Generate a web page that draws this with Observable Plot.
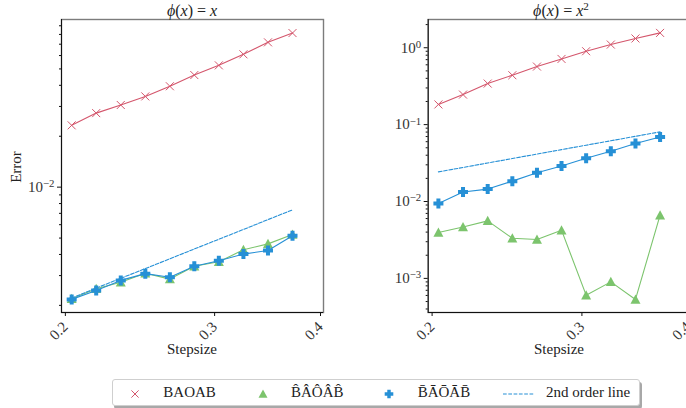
<!DOCTYPE html>
<html><head><meta charset="utf-8">
<script src="https://cdn.jsdelivr.net/npm/d3@7"></script>
<script src="https://cdn.jsdelivr.net/npm/@observablehq/plot@0.6"></script>
<style>
html,body{margin:0;padding:0;background:#fff;overflow:hidden;}
#wrap{position:relative;width:686px;height:408px;overflow:hidden;font-family:"Liberation Serif",serif;color:#222;}
.abs{position:absolute;white-space:nowrap;font-family:"Liberation Serif",serif;}
#wrap svg{overflow:visible;}
</style></head><body><div id="wrap"></div>
<script>
// ---- data ----
const stepsize = [0.2018, 0.2157, 0.2306, 0.2465, 0.2635, 0.2816, 0.3010, 0.3218, 0.3440, 0.3677];
// phi(x) = x
const leftBAOAB = [0.0232, 0.0274, 0.0306, 0.0344, 0.0395, 0.0460, 0.0525, 0.0610, 0.0718, 0.0815];
const leftHat   = [0.00219, 0.00251, 0.00274, 0.00310, 0.00286, 0.00341, 0.00362, 0.00426, 0.00462, 0.00525];
const leftBar   = [0.00217, 0.00245, 0.00281, 0.00308, 0.00293, 0.00341, 0.00367, 0.00402, 0.00422, 0.00516];
const leftOrder2 = [0.00221, 0.00253, 0.00289, 0.00330, 0.00377, 0.00431, 0.00492, 0.00562, 0.00643, 0.00734];
// phi(x) = x^2
const rightBAOAB = [0.183, 0.246, 0.342, 0.439, 0.569, 0.715, 0.901, 1.10, 1.32, 1.56];
const rightHat   = [0.00395, 0.00467, 0.00560, 0.00333, 0.00321, 0.00424, 0.000605, 0.000901, 0.000532, 0.00664];
const rightBar   = [0.00942, 0.0133, 0.0145, 0.0184, 0.0236, 0.0290, 0.0366, 0.0451, 0.0568, 0.0692];
const rightOrder2 = [0.0243, 0.0277, 0.0317, 0.0362, 0.0414, 0.0473, 0.0540, 0.0617, 0.0705, 0.0806];

const xTicks = [0.2, 0.3, 0.4];
const leftMajor = [0.01];
const rightMajor = [0.001, 0.01, 0.1, 1];

const seriesNames = ["BAOAB", "B\u0302\u00C2\u00D4\u00C2B\u0302", "B\u0304\u0100\u014C\u0100B\u0304", "2nd order line"];
const colors = {red: "#d4566c", green: "#7cc46d", blue: "#2690d6"};

// ---- symbols ----
const rad = s => Math.sqrt(s / Math.PI);
const symTimes = {draw(c, s) {const r = rad(s); c.moveTo(-r,-r); c.lineTo(r,r); c.moveTo(-r,r); c.lineTo(r,-r);}};
const symTri = {draw(c, s) {const r = rad(s); c.moveTo(0,-r); c.lineTo(r,r*0.85); c.lineTo(-r,r*0.85); c.closePath();}};
const symPlus = {draw(c, s) {const r = rad(s), w = r*0.4;
  c.moveTo(-w,-r); c.lineTo(w,-r); c.lineTo(w,-w); c.lineTo(r,-w); c.lineTo(r,w); c.lineTo(w,w);
  c.lineTo(w,r); c.lineTo(-w,r); c.lineTo(-w,w); c.lineTo(-r,w); c.lineTo(-r,-w); c.lineTo(-w,-w); c.closePath();}};

function minorTicks(lo, hi) {
  const out = [];
  for (let e = Math.floor(Math.log10(lo)); e <= Math.ceil(Math.log10(hi)); e++)
    for (let k = 2; k <= 9; k++) { const v = k * Math.pow(10, e); if (v >= lo && v <= hi) out.push(v); }
  return out;
}

function panel({width, marginLeft, marginRight, yDomain, majors, baoab, hat, bar, order2}) {
  const xDomain = [0.1963, 0.4];
  const rows = a => stepsize.map((h, i) => ({h, v: a[i]}));
  const svg = Plot.plot({
    width, height: 345, marginTop: 19, marginBottom: 33, marginLeft, marginRight,
    style: {background: "transparent", overflow: "visible", fontFamily: "Liberation Serif, serif", fontSize: "15px"},
    x: {type: "log", domain: xDomain},
    y: {type: "log", domain: yDomain},
    marks: [
      Plot.frame({stroke: "#7c7c7c", strokeWidth: 1.4}),
      Plot.ruleX([xDomain[0]], {stroke: "#111", strokeWidth: 1}),
      Plot.ruleY([yDomain[0]], {stroke: "#111", strokeWidth: 1}),
      Plot.axisY({ticks: minorTicks(yDomain[0], yDomain[1]), tickSize: 2, tickFormat: () => "", stroke: "#111", label: null}),
      Plot.axisY({ticks: majors, tickSize: 4, tickPadding: 3, fontSize: 15, stroke: "#111", label: null,
        tickFormat: d => "10^" + Math.round(Math.log10(d)), fill: "#333"}),
      Plot.axisX({ticks: xTicks, tickSize: 4, tickRotate: -45, fontSize: 15, label: null, stroke: "#111",
        tickFormat: d => d.toFixed(1), fill: "#333", dx: -3}),
      Plot.line(rows(baoab), {x: "h", y: "v", stroke: colors.red, strokeWidth: 1.1}),
      Plot.dot(rows(baoab), {x: "h", y: "v", symbol: symTimes, r: 4, stroke: colors.red, fill: "none", strokeWidth: 1}),
      Plot.line(rows(hat), {x: "h", y: "v", stroke: colors.green, strokeWidth: 1.1}),
      Plot.dot(rows(hat), {x: "h", y: "v", symbol: symTri, r: 5, fill: colors.green, stroke: "none"}),
      Plot.line(rows(bar), {x: "h", y: "v", stroke: colors.blue, strokeWidth: 1.1}),
      Plot.dot(rows(bar), {x: "h", y: "v", symbol: symPlus, r: 5, fill: colors.blue, stroke: "none"}),
      Plot.line(rows(order2), {x: "h", y: "v", stroke: colors.blue, strokeWidth: 1.1, strokeDasharray: "3.7,1.6"})
    ]
  });
  // superscript exponents
  d3.select(svg).selectAll("text").each(function() {
    const t = this.textContent;
    if (/^10\^/.test(t)) {
      const e = t.split("^")[1].replace("-", "\u2212");
      const sel = d3.select(this);
      sel.text("");
      sel.append("tspan").text("10");
      sel.append("tspan").attr("dy", "-0.45em").attr("font-size", "0.72em").text(e);
    }
  });
  return svg;
}

const wrap = document.getElementById("wrap");
function place(el, left, top) { el.style.position = "absolute"; el.style.left = left + "px"; el.style.top = top + "px"; wrap.appendChild(el); }

place(panel({width: 340, marginLeft: 61, marginRight: 17, yDomain: [0.001815, 0.098], majors: leftMajor,
  baoab: leftBAOAB, hat: leftHat, bar: leftBar, order2: leftOrder2}), 0, 0);
place(panel({width: 360, marginLeft: 87.7, marginRight: 9.3, yDomain: [0.00036, 2.33], majors: rightMajor,
  baoab: rightBAOAB, hat: rightHat, bar: rightBar, order2: rightOrder2}), 340, 0);

function label(html, cx, cy, size, rotate) {
  const d = document.createElement("div");
  d.className = "abs"; d.innerHTML = html; d.style.fontSize = size + "px"; d.style.lineHeight = "1";
  d.style.left = cx + "px"; d.style.top = cy + "px";
  d.style.transform = "translate(-50%,-50%)" + (rotate ? " rotate(" + rotate + "deg)" : "");
  wrap.appendChild(d);
}
label("<i>\u03D5</i>(<i>x</i>) = <i>x</i>", 192, 11, 16);
label("<i>\u03D5</i>(<i>x</i>) = <i>x</i><sup style='font-size:0.7em;line-height:0'>2</sup>", 561, 11, 16);
label("Stepsize", 192, 349, 15);
label("Stepsize", 559, 349, 15);
label("Error", 16, 167, 15, -90);

// legend
const lg = document.createElement("div");
lg.className = "abs";
Object.assign(lg.style, {left: "112px", top: "379px", width: "526px", height: "25px", border: "1px solid #cfcfcf",
  borderRadius: "3px", background: "#fff", boxShadow: "2px 3px 0 #a8a8a8"});
wrap.appendChild(lg);
function legSym(draw, cx) {
  const s = d3.create("svg").attr("width", 20).attr("height", 20).style("position", "absolute")
    .style("left", (cx - 112 - 10) + "px").style("top", (392.5 - 379 - 10) + "px");
  draw(s.append("g").attr("transform", "translate(10,10)"));
  lg.appendChild(s.node());
}
legSym(g => g.append("path").attr("d", (() => {const p = d3.path(); symTimes.draw(p, Math.PI*3.6*3.6); return p.toString();})())
  .attr("stroke", colors.red).attr("fill", "none"), 134.3);
legSym(g => g.append("path").attr("d", (() => {const p = d3.path(); symTri.draw(p, Math.PI*4.5*4.5); return p.toString();})())
  .attr("fill", colors.green), 261.7);
legSym(g => g.append("path").attr("d", (() => {const p = d3.path(); symPlus.draw(p, Math.PI*4.3*4.3); return p.toString();})())
  .attr("fill", colors.blue), 388.3);
{
  const s = d3.create("svg").attr("width", 32).attr("height", 4).style("position", "absolute")
    .style("left", (501.7 - 112) + "px").style("top", (392.5 - 379 - 2) + "px");
  s.append("line").attr("x1", 0).attr("x2", 31).attr("y1", 2).attr("y2", 2)
    .attr("stroke", colors.blue).attr("stroke-width", 1.1).attr("stroke-dasharray", "3.7,1.6");
  lg.appendChild(s.node());
}
const textPos = [162.3, 290, 416.7, 545];
seriesNames.forEach((n, i) => {
  const t = document.createElement("div");
  t.className = "abs"; t.textContent = n;
  Object.assign(t.style, {left: (textPos[i] - 112) + "px", top: "0px", lineHeight: "25px", fontSize: "15px"});
  lg.appendChild(t);
});
</script></body></html>
